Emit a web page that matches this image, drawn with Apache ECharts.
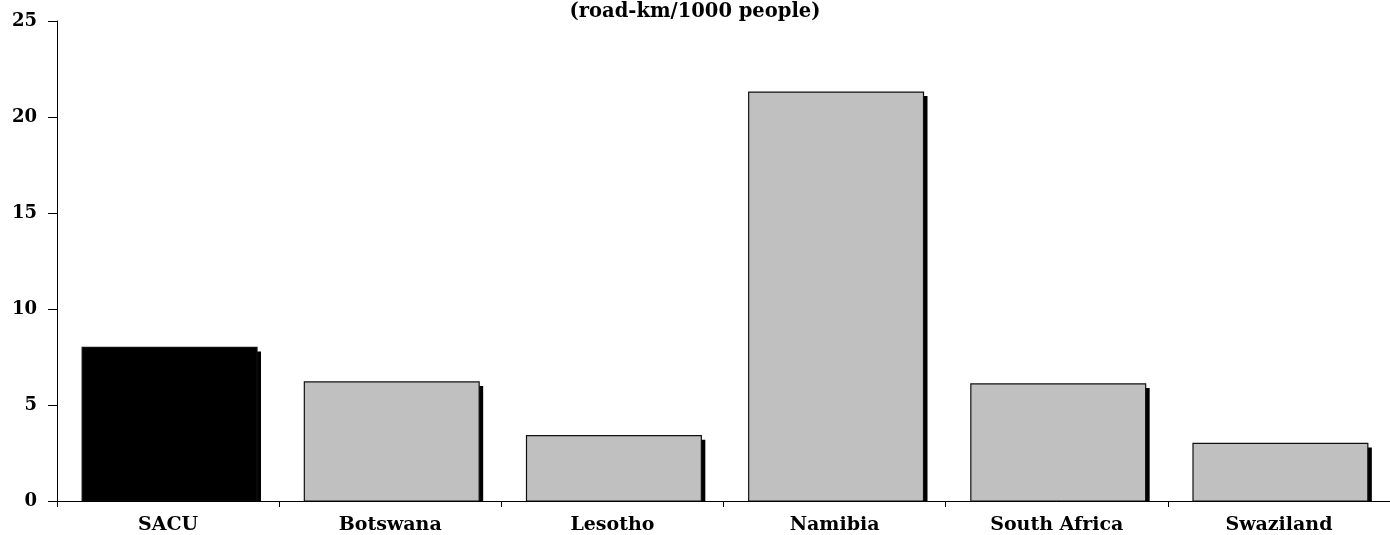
<!DOCTYPE html>
<html>
<head>
<meta charset="utf-8">
<script src="https://cdn.jsdelivr.net/npm/echarts@6/dist/echarts.min.js"></script>
<style>
  html, body { margin: 0; padding: 0; background: #fff; }
  #chart { width: 1390px; height: 535px; }
</style>
</head>
<body>
<div id="chart"></div>
<script>
// Road density by SACU member (road-km per 1000 people)
var categories = ['SACU', 'Botswana', 'Lesotho', 'Namibia', 'South Africa', 'Swaziland'];
var roadDensity = [8.0, 6.2, 3.4, 21.3, 6.1, 3.0];
var barColors = ['#000000', '#c0c0c0', '#c0c0c0', '#c0c0c0', '#c0c0c0', '#c0c0c0'];

var serif = '"DejaVu Serif", "Liberation Serif", serif';
var chart = echarts.init(document.getElementById('chart'));

// Each bar: a solid drop shadow offset right/down, then the outlined bar on top
function renderBar(params, api) {
  var idx = api.value(0);
  var val = api.value(1);
  var top = api.coord([idx, val]);
  var base = api.coord([idx, 0]);
  var w = api.size([1, 0])[0] * 0.787;
  var x = top[0] - w / 2 + 1.5;
  var h = base[1] - top[1];
  var off = 4;
  return {
    type: 'group',
    children: [
      {
        type: 'rect',
        shape: { x: x + off, y: top[1] + off, width: w, height: Math.max(h - off, 0) },
        style: { fill: '#000' }
      },
      {
        type: 'rect',
        shape: { x: x, y: top[1], width: w, height: h },
        style: { fill: barColors[idx], stroke: '#111', lineWidth: 1.2 }
      }
    ]
  };
}

chart.setOption({
  animation: false,
  backgroundColor: '#ffffff',
  title: {
    text: '(road-km/1000 people)',
    left: 'center',
    top: -3,
    textStyle: { fontFamily: serif, fontWeight: 'bold', fontSize: 19.5, color: '#000' }
  },
  grid: { left: 57, right: -9, top: 21, bottom: 34 },
  xAxis: {
    type: 'category',
    data: categories,
    axisLine: { lineStyle: { color: '#000', width: 1 } },
    axisTick: { show: true, alignWithLabel: false, length: 6, lineStyle: { color: '#000' } },
    axisLabel: {
      fontFamily: serif, fontWeight: 'bold', fontSize: 19, color: '#000', margin: 15
    },
    splitLine: { show: false }
  },
  yAxis: {
    type: 'value',
    min: 0,
    max: 25,
    interval: 5,
    axisLine: { show: true, lineStyle: { color: '#000', width: 1 } },
    axisTick: { show: true, length: 9, lineStyle: { color: '#000' } },
    axisLabel: {
      fontFamily: serif, fontWeight: 'bold', fontSize: 18, color: '#000', margin: 20
    },
    splitLine: { show: false }
  },
  series: [{
    type: 'custom',
    renderItem: renderBar,
    clip: true,
    encode: { x: 0, y: 1 },
    data: roadDensity.map(function (v, i) { return [i, v]; })
  }]
});
</script>
</body>
</html>
